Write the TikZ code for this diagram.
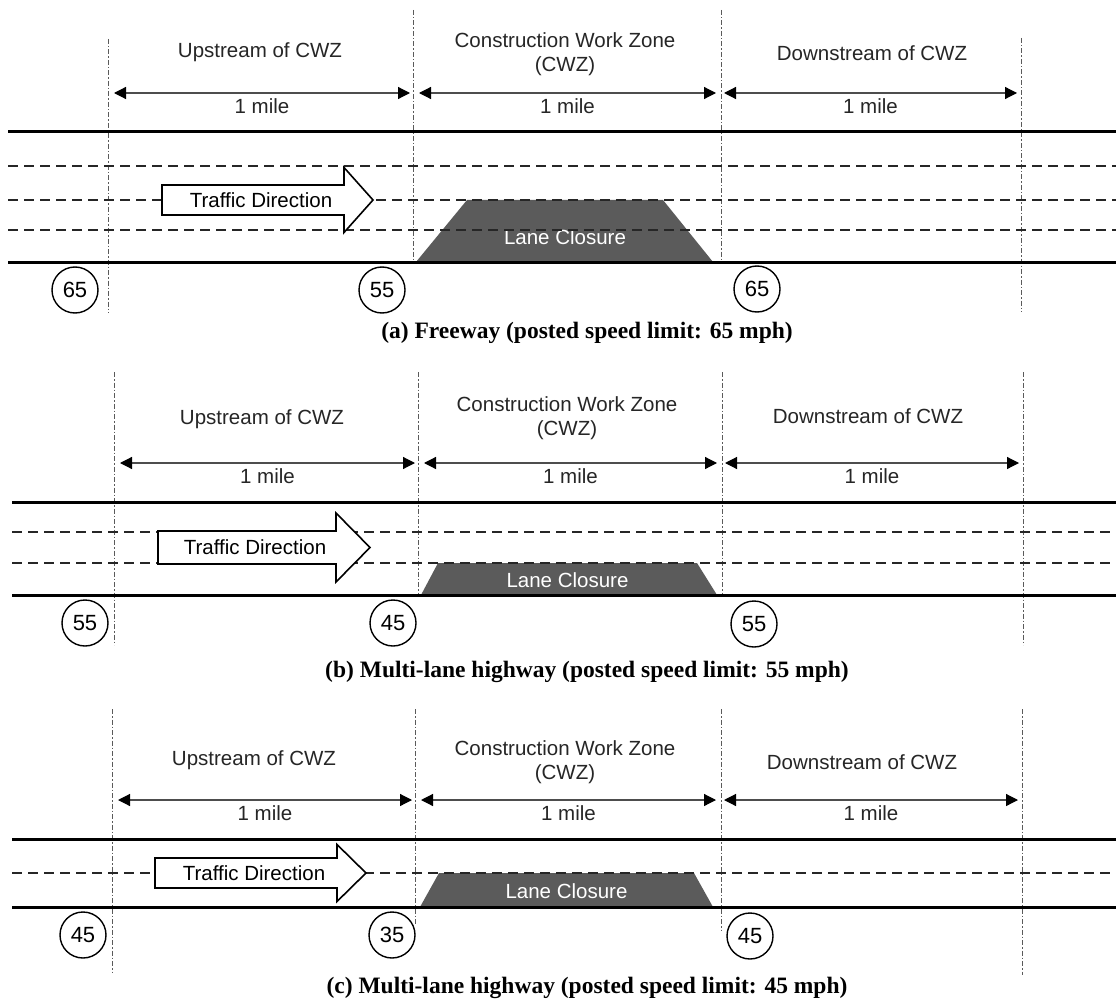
\documentclass[tikz,border=0pt]{standalone}
\usepackage{fontspec}
\setmainfont{Liberation Sans}
\newfontfamily\capfont{Liberation Serif}
\usetikzlibrary{arrows.meta}
\definecolor{cwzink}{HTML}{262626}
\definecolor{cwzgrid}{HTML}{5A5A5A}
\definecolor{cwzdim}{HTML}{4D4D4D}
\definecolor{cwzclose}{HTML}{5B5B5B}
\tikzset{
  road/.style={line width=3pt, black},
  lane/.style={line width=2pt, black!85, dash pattern=on 10pt off 6pt},
  zone/.style={line width=1pt, cwzgrid, dash pattern=on 5pt off 2pt on 1.5pt off 2pt},
  dim/.style={{Triangle[length=12pt, width=12pt, color=black]}-{Triangle[length=12pt, width=12pt, color=black]}, line width=1.2pt, cwzdim},
  hdr/.style={text=cwzink, align=center, inner sep=0pt},
  sp/.style={circle, draw, line width=1.4pt, minimum size=46pt, inner sep=0pt, font=\fontsize{22}{22}\selectfont},
  tdir/.style={fill=white, draw=black, line width=1.6pt, line join=miter},
  closure/.style={fill=cwzclose},
  captxt/.style={font=\capfont\bfseries\fontsize{23.5}{26}\selectfont},
}
\begin{document}
\begin{tikzpicture}[x=1pt, y=-1pt, font=\fontsize{20.5}{23.5}\selectfont]
  \fill[white] (0,0) rectangle (1116,1003);
  \useasboundingbox (0,0) rectangle (1116,1003);
  % zone boundaries
  \foreach \nm/\x/\yt/\yb/\yd in {a1/108/39/313/93, a2/413/10/262/93, a3/721/10/262/93, a4/1021/38/312/93,
      b1/114/372/645/463, b2/418/372/595/463, b3/722/372/595/463, b4/1023/372/645/463,
      c1/112/709/973/800, c2/415/709/925/800, c3/721/709/930/800, c4/1022/709/975/800}
    { \coordinate (\nm-t) at (\x,\yt); \coordinate (\nm-b) at (\x,\yb); \coordinate (\nm-d) at (\x,\yd);
      \draw[zone] (\nm-t) -- (\nm-b); }
  % lane closures
  \foreach \p/\yt/\yb/\xa/\xb/\xc/\xd/\yl in {a/200/262/416/467/663/713/237, b/563/595/421/438/697/717/580, c/873/907/420/439/694/713/891}
    { \fill[closure] (\xa,\yb) -- (\xb,\yt) -- (\xc,\yt) -- (\xd,\yb) -- cycle;
      \node[hdr, text=white] (\p lc) at ({(\xb+\xc)/2},\yl) {Lane Closure}; }
  % lane lines and road edges
  \foreach \x/\y in {8/166, 8/200, 8/230, 12/532, 12/563, 12/873}
    { \draw[lane] (\x,\y) -- (1116,\y); }
  \foreach \x/\y in {8/132, 8/262, 12/502, 12/595, 12/839, 12/907}
    { \draw[road] (\x,\y) -- (1116,\y); }
  % traffic direction arrows
  \foreach \p/\xl/\xb/\xt/\yc/\bh/\hh in {a/162/344/373/200/15/32.5, b/158/336/370/547.5/16.5/34.5, c/155/337/366/873/15/28.5}
    { \draw[tdir] (\xl,{\yc-\bh}) -- (\xb,{\yc-\bh}) -- (\xb,{\yc-\hh}) -- (\xt,\yc) -- (\xb,{\yc+\hh}) -- (\xb,{\yc+\bh}) -- (\xl,{\yc+\bh}) -- cycle;
      \node[hdr, text=black] (\p td) at ({(\xl+\xb)/2+8},\yc) {Traffic Direction}; }
  % section headers and lengths
  \foreach \p/\xu/\yu/\xc/\yc/\xn/\yn in {a/260/52/565/54/872/53, b/262/419/567/418/868/416, c/254/760/565/762/862/762}
    { \node[hdr] (\p up) at (\xu,\yu) {Upstream of CWZ};
      \node[hdr] (\p cwz) at (\xc,\yc) {Construction Work Zone\\(CWZ)};
      \node[hdr] (\p dn) at (\xn,\yn) {Downstream of CWZ};
      \draw[dim] ([xshift=6pt]\p1-d) -- ([xshift=-3pt]\p2-d) node[midway, yshift=-13pt, hdr] (\p mile1) {1 mile};
      \draw[dim] ([xshift=6pt]\p2-d) -- ([xshift=-5pt]\p3-d) node[midway, yshift=-13pt, hdr] (\p mile2) {1 mile};
      \draw[dim] ([xshift=3pt]\p3-d) -- ([xshift=-4pt]\p4-d) node[midway, yshift=-13pt, hdr] (\p mile3) {1 mile}; }
  % speed limit signs
  \foreach \p/\n/\x/\y/\v in {a/1/75/290/65, a/2/382/290/55, a/3/757/289/65, b/1/85/623/55, b/2/393/623/45, b/3/754/624/55,
      c/1/83/935/45, c/2/392/935/35, c/3/750/936/45}
    { \node[sp] (\p sp\n) at (\x,\y) {\v}; }
  % captions
  \node[captxt] (capa) at (587,333) {(a) Freeway (posted speed limit: 65 mph)};
  \node[captxt] (capb) at (587,672) {(b) Multi-lane highway (posted speed limit: 55 mph)};
  \node[captxt] (capc) at (587,988) {(c) Multi-lane highway (posted speed limit: 45 mph)};
\end{tikzpicture}
\end{document}
